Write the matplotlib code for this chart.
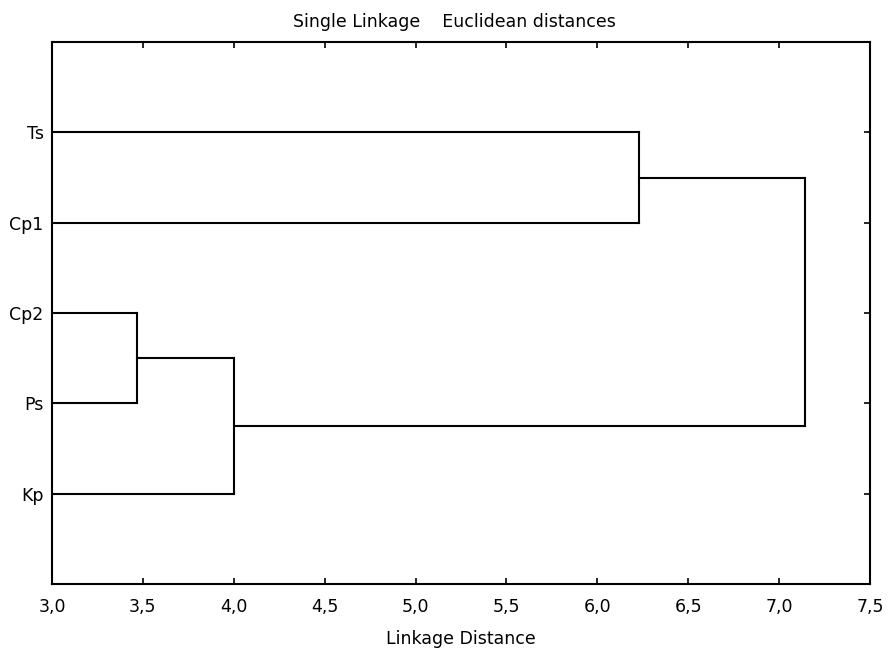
import matplotlib
matplotlib.use("Agg")
import matplotlib.pyplot as plt

# ---- data ----
leaf_labels = ["Ts", "Cp1", "Cp2", "Ps", "Kp"]
# merges: (child_a, child_b, height); children are leaf indices or "n<k>" for k-th merge
merge_a = [2, 0, "n0", "n1"]
merge_b = [3, 1, 4, "n2"]
merge_heights = [3.47, 6.23, 4.0, 7.14]
x_ticks = [3.0, 3.5, 4.0, 4.5, 5.0, 5.5, 6.0, 6.5, 7.0, 7.5]
x_tick_labels = ["3,0", "3,5", "4,0", "4,5", "5,0", "5,5", "6,0", "6,5", "7,0", "7,5"]
title = "Single Linkage    Euclidean distances"
xlabel = "Linkage Distance"

plt.rcParams["font.family"] = ["DejaVu Sans"]
fig = plt.figure(figsize=(8.88, 6.5), dpi=100)
ax = fig.add_axes([52/888, 1-584/650, (870-52)/888, (584-42)/650])

xmin, xmax = x_ticks[0], x_ticks[-1]
leaf_y = {i: i + 1 for i in range(len(leaf_labels))}
node_pos = {}

def pos(c):
    if isinstance(c, str):
        return node_pos[c]
    return (xmin, leaf_y[c])

lw = 1.5
for k, (a, b, h) in enumerate(zip(merge_a, merge_b, merge_heights)):
    xa, ya = pos(a)
    xb, yb = pos(b)
    ax.plot([xa, h], [ya, ya], color="black", lw=lw, solid_capstyle="projecting")
    ax.plot([xb, h], [yb, yb], color="black", lw=lw, solid_capstyle="projecting")
    ax.plot([h, h], [ya, yb], color="black", lw=lw, solid_capstyle="projecting")
    node_pos[f"n{k}"] = (h, (ya + yb) / 2)

ax.set_xlim(xmin, xmax)
ax.set_ylim(len(leaf_labels) + 1, 0)
ax.set_xticks(x_ticks)
ax.set_xticklabels(x_tick_labels)
ax.set_yticks([leaf_y[i] for i in range(len(leaf_labels))])
ax.set_yticklabels(leaf_labels)
ax.tick_params(axis="both", direction="in", length=4, width=1.2, labelsize=12.5,
               top=True, right=True)
ax.tick_params(axis="x", pad=10)
ax.tick_params(axis="y", pad=6)
for s in ax.spines.values():
    s.set_linewidth(1.5)

fig.text(454/888, 1-22/650, title, ha="center", va="center", fontsize=12.5)
fig.text(461/888, 1-639/650, xlabel, ha="center", va="center", fontsize=12.5)

fig.savefig("out.png", dpi=100)
